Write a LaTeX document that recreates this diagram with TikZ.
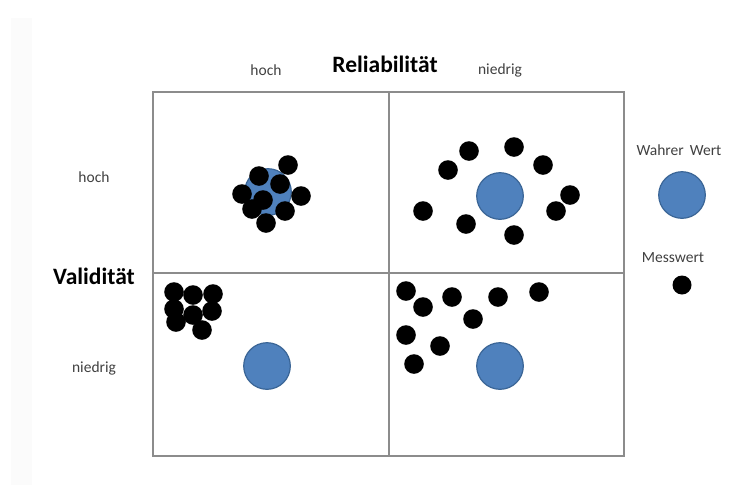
\documentclass[tikz,border=0pt]{standalone}
\usepackage{fontspec}
\setmainfont{Carlito}
\definecolor{wertblau}{HTML}{4F81BD}
\definecolor{wertrand}{HTML}{3A6596}
\definecolor{labelgrau}{HTML}{404040}

\begin{document}
\begin{tikzpicture}[x=1pt, y=-1pt,
    wahr/.style={fill=wertblau, draw=wertrand, line width=1.2pt},
    raster/.style={line width=1.4pt, draw=gray!90},
    klein/.style={text=labelgrau, font=\fontsize{15.5}{18}\selectfont},
    titel/.style={text=black, font=\fontsize{23.5}{28}\selectfont\bfseries}]
        \useasboundingbox (0,0) rectangle (746,485);
        \fill [gray!3] (11,18) rectangle (32,485);                      % grauer Rand links

        % Raster 2x2
        \draw [raster] (153,92) rectangle (624,456);                    %
        \draw [raster] (389,92) -- (389,456);                           %
        \draw [raster] (153,273) -- (624,273);                          %

        % Achsen
        \node [titel] (rel)     at (385,64)  {Reliabilität};            %
        \node [klein] (relhoch) at (266,70)  {hoch};                    %
        \node [klein] (relnied) at (500,70)  {niedrig};                 %
        \node [titel] (val)     at (94,276)  {Validität};               %
        \node [klein] (valhoch) at (94,177)  {hoch};                    %
        \node [klein] (valnied) at (94,368)  {niedrig};                 %

        % wahre Werte
        \fill [wahr] (268,192) circle [radius=23.3pt];                  %hoch/hoch
        \fill [wahr] (500,196) circle [radius=23.3pt];                  %hoch/niedrig
        \fill [wahr] (267,366) circle [radius=23.3pt];                  %niedrig/hoch
        \fill [wahr] (500,366) circle [radius=23.3pt];                  %niedrig/niedrig

        % Messwerte
        \foreach \p in {(288,165),(259,176),(280,184),(242,194),(301,196),
                        (263,200),(252,209),(285,211),(266,223)}
          \fill \p circle [radius=9.8pt];                               %hoch/hoch
        \foreach \p in {(469,151),(514,147),(448,170),(543,165),(570,195),
                        (423,211),(556,211),(466,224),(514,235)}
          \fill \p circle [radius=9.8pt];                               %hoch/niedrig
        \foreach \p in {(174,292),(193,295),(213,294),(174,309),(212,311),
                        (193,315),(176,322),(202,330)}
          \fill \p circle [radius=9.8pt];                               %niedrig/hoch
        \foreach \p in {(406,291),(452,297),(498,297),(539,292),(423,307),
                        (473,319),(406,335),(440,346),(414,364)}
          \fill \p circle [radius=9.8pt];                               %niedrig/niedrig

        % Legende
        \node [klein] (wahrlab) at (679,150) {Wahrer\ \,Wert};          %
        \fill [wahr] (682,195) circle [radius=23.3pt];                  %
        \node [klein] (messlab) at (673,258) {Messwert};                %
        \fill (682,285) circle [radius=9.5pt];                          %
\end{tikzpicture}
\end{document}
